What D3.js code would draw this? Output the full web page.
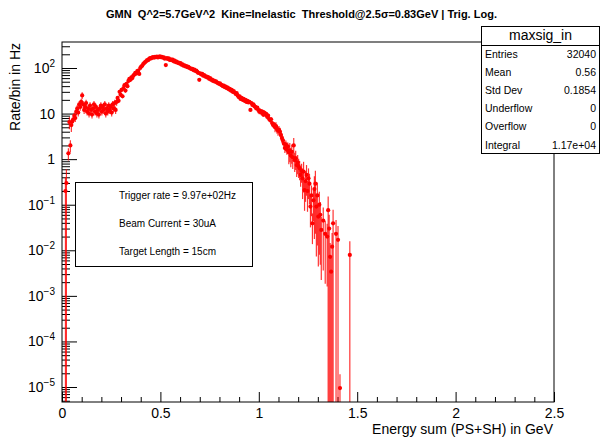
<!DOCTYPE html>
<html>
<head>
<meta charset="utf-8">
<script src="https://cdn.jsdelivr.net/npm/d3@7"></script>
<style>
  body { margin: 0; background: #fff; }
  svg { font-family: "Liberation Sans", Arial, Helvetica, sans-serif; }
</style>
</head>
<body>
<svg id="chart" width="603" height="441"></svg>
<script>
// histogram maxsig_in, 0.005 GeV bins starting at 0, rate per bin in Hz (0 = empty bin)
const binWidth = 0.005;
const rates = [
  0, 0, 0, 0.2, 0.3, 0, 1.34, 6.5, 2.0, 5.6,
  6.8, 7.5, 9, 8, 11, 13, 10.5, 16, 14, 18,
  25, 16, 12, 14, 17, 11, 13, 10, 15, 12,
  9.5, 13, 16, 11, 14, 10, 12, 9.5, 13, 15,
  11, 14, 12, 16, 10, 13, 11, 15, 12, 14,
  10.5, 16, 13, 17, 12, 18, 22, 19, 30, 26,
  33, 24, 36, 42, 32, 45, 40, 52, 58, 55,
  62, 60, 68, 72, 78, 76, 85, 88, 74, 100,
  108, 112, 122, 128, 135, 140, 150, 148, 158, 165,
  162, 170, 174, 168, 176, 172, 178, 170, 175, 180,
  172, 176, 168, 172, 160, 116, 165, 158, 162, 150,
  155, 148, 152, 140, 145, 135, 138, 130, 132, 125,
  128, 118, 120, 112, 115, 108, 110, 104, 106, 100,
  98, 95, 96, 90, 92, 86, 88, 82, 78, 55,
  76, 72, 74, 68, 70, 65, 66, 62, 63, 58,
  60, 55, 56, 52, 53, 50, 51, 48, 47, 45,
  46, 43, 42, 40, 41, 38, 39, 36, 37, 34,
  35, 32, 33, 30, 31, 29, 27, 28, 25, 23,
  24, 21, 22, 20, 21, 19, 20, 18, 19, 17.5,
  18, 12, 17, 15.5, 16, 14.5, 14, 13, 13.5, 12,
  11, 11.5, 10.5, 11, 9.5, 10.5, 9.5, 9.8, 8.5, 9,
  7.6, 7.2, 7.5, 6.2, 5.6, 5.8, 5.0, 5.3, 4.6, 4.2,
  4.4, 4.0, 3.4, 2.9, 2.6, 2.2, 1.75, 2.1, 1.6, 1.9,
  1.4, 1.55, 1.2, 1.45, 1.1, 2.0, 0.95, 1.05, 0.74, 0.85,
  0.7, 0.63, 0.45, 0.55, 0.38, 0.53, 0.21, 0.33, 0.45, 0.2,
  0.38, 0.29, 0.091, 0.16, 0.039, 0.125, 0.22, 0.29, 0.091, 0.16,
  0.055, 0.1, 0.06, 0.028, 0, 0.045, 0, 0.023, 0, 0.02,
  0.076, 0.03, 0.0072, 0.0034, 0.012, 0.039, 0, 0, 0.023, 0,
  0.017, 0, 9.5e-6, 0, 0, 0, 0, 0, 0, 0,
  0, 0, 0.0079
];
// relative error of the rate, by energy range [from, to, relErr]
const errBands = [
  [0.00, 0.03, 1.0],
  [0.03, 0.05, 0.3],
  [0.05, 0.28, 0.18],
  [0.28, 0.38, 0.1],
  [0.38, 0.85, 0.04],
  [0.85, 1.00, 0.07],
  [1.00, 1.08, 0.12],
  [1.08, 1.15, 0.22],
  [1.15, 1.22, 0.45],
  [1.22, 1.28, 0.65],
  [1.28, 1.35, 0.92],
  [1.35, 1.50, 1.0]
];
const xTicks = [0, 0.5, 1, 1.5, 2, 2.5];
const yDecades = [-5, -4, -3, -2, -1, 0, 1, 2];
const statNames = ["Entries", "Mean", "Std Dev", "Underflow", "Overflow", "Integral"];
const statValues = ["32040", "0.56", "0.1854", "0", "0", "1.17e+04"];
const infoLines = ["Trigger rate = 9.97e+02Hz", "Beam Current = 30uA", "Target Length = 15cm"];
const titleText = "GMN  Q^2=5.7GeV^2  Kine=Inelastic  Threshold@2.5\u03c3=0.83GeV | Trig. Log.";

let svg = d3.select('#chart');
let frame = { left: 62, right: 554, top: 42, bottom: 402 };

let x = d3.scaleLinear().domain([0, 2.5]).range([frame.left, frame.right]);
let y = d3.scaleLog().domain([4.69e-6, 372]).range([frame.bottom, frame.top]);

let points = rates
  .map((v, i) => {
    let e = (i + 0.5) * binWidth;
    let band = errBands.find(b => e >= b[0] && e < b[1]);
    return { e: e, v: v, err: v * (band ? band[2] : 0) };
  })
  .filter(d => d.v > 0);

// title
svg.append('text')
  .attr('x', 301.5).attr('y', 18)
  .attr('text-anchor', 'middle')
  .attr('font-size', 11).attr('font-weight', 'bold')
  .style('white-space', 'pre')
  .text(titleText);

svg.append('clipPath').attr('id', 'plotclip')
  .append('rect')
  .attr('x', frame.left).attr('y', frame.top)
  .attr('width', frame.right - frame.left).attr('height', frame.bottom - frame.top);

// x axis: major + minor ticks pointing up into the frame
let gx = svg.append('g')
  .attr('transform', `translate(0,${frame.bottom})`)
  .call(d3.axisBottom(x).tickValues(xTicks).tickSizeInner(-10).tickSizeOuter(0).tickFormat(d3.format('')))
  .call(g => g.select('.domain').remove());
gx.selectAll('text').attr('y', 16).attr('dy', 0).attr('font-size', 14)
  .attr('font-family', '"Liberation Sans", Arial, sans-serif').attr('fill', '#000');

svg.append('g')
  .attr('transform', `translate(0,${frame.bottom})`)
  .call(d3.axisBottom(x).tickValues(x.ticks(25).filter(t => !xTicks.includes(t))).tickSizeInner(-5).tickSizeOuter(0).tickFormat(''))
  .call(g => g.select('.domain').remove());

// y axis (log): decades + 2..9 minors
let gy = svg.append('g')
  .attr('transform', `translate(${frame.left},0)`)
  .call(d3.axisLeft(y).tickValues(yDecades.map(d => Math.pow(10, d))).tickSizeInner(-15).tickSizeOuter(0).tickFormat(''))
  .call(g => g.select('.domain').remove());

svg.append('g')
  .attr('transform', `translate(${frame.left},0)`)
  .call(d3.axisLeft(y).tickValues(y.ticks().filter(t => Math.abs(Math.log10(t) - Math.round(Math.log10(t))) > 1e-6)).tickSizeInner(-8).tickSizeOuter(0).tickFormat(''))
  .call(g => g.select('.domain').remove());

let ylab = svg.append('g').attr('font-size', 14).attr('text-anchor', 'end');
yDecades.forEach(d => {
  let t = ylab.append('text').attr('x', 55).attr('y', y(Math.pow(10, d)) + 5);
  if (d === 0) t.text('1');
  else if (d === 1) t.text('10');
  else {
    t.append('tspan').text('10');
    t.append('tspan').attr('font-size', 10).attr('dy', -6).text(d < 0 ? '\u2212' + (-d) : String(d));
  }
});

// axis titles
svg.append('text')
  .attr('transform', 'translate(20,43) rotate(-90)')
  .attr('text-anchor', 'end').attr('font-size', 14)
  .text('Rate/bin in Hz');
svg.append('text')
  .attr('x', 553).attr('y', 434)
  .attr('text-anchor', 'end').attr('font-size', 14)
  .text('Energy sum (PS+SH) in GeV');

// data: error bars + markers
let plot = svg.append('g').attr('clip-path', 'url(#plotclip)');
plot.selectAll('line.err')
  .data(points)
  .enter()
  .append('line')
  .attr('class', 'err')
  .attr('x1', d => x(d.e)).attr('x2', d => x(d.e))
  .attr('y1', d => y(d.v + d.err))
  .attr('y2', d => d.v - d.err > y.domain()[0] ? y(d.v - d.err) : frame.bottom)
  .attr('stroke', '#ff0000')
  .attr('stroke-opacity', 0.8)
  .attr('stroke-width', 1.2);
plot.selectAll('circle')
  .data(points)
  .enter()
  .append('circle')
  .attr('cx', d => x(d.e)).attr('cy', d => y(d.v))
  .attr('r', 2.1)
  .attr('fill', '#ff0000');

// frame
svg.append('rect')
  .attr('x', frame.left).attr('y', frame.top)
  .attr('width', frame.right - frame.left).attr('height', frame.bottom - frame.top)
  .attr('fill', 'none').attr('stroke', '#000').attr('stroke-width', 1);

// info pave
let info = svg.append('g');
info.append('rect')
  .attr('x', 75.5).attr('y', 182.5).attr('width', 177).attr('height', 84)
  .attr('fill', '#fff').attr('stroke', '#000');
info.selectAll('text')
  .data(infoLines)
  .enter()
  .append('text')
  .attr('x', 119).attr('y', (d, i) => 198.6 + i * 28.4)
  .attr('font-size', 10)
  .text(d => d);

// stats box
let stats = svg.append('g');
stats.append('rect')
  .attr('x', 481.5).attr('y', 26.5).attr('width', 118).attr('height', 127)
  .attr('fill', '#fff').attr('stroke', '#000');
stats.append('line')
  .attr('x1', 481.5).attr('x2', 599.5).attr('y1', 45.5).attr('y2', 45.5)
  .attr('stroke', '#000');
stats.append('text')
  .attr('x', 540.5).attr('y', 40)
  .attr('text-anchor', 'middle').attr('font-size', 14)
  .text('maxsig_in');
statNames.forEach((n, i) => {
  stats.append('text').attr('x', 485).attr('y', 58 + i * 18.1).attr('font-size', 10.5).text(n);
  stats.append('text').attr('x', 596).attr('y', 58 + i * 18.1).attr('font-size', 10.5)
    .attr('text-anchor', 'end').text(statValues[i]);
});
</script>
</body>
</html>
